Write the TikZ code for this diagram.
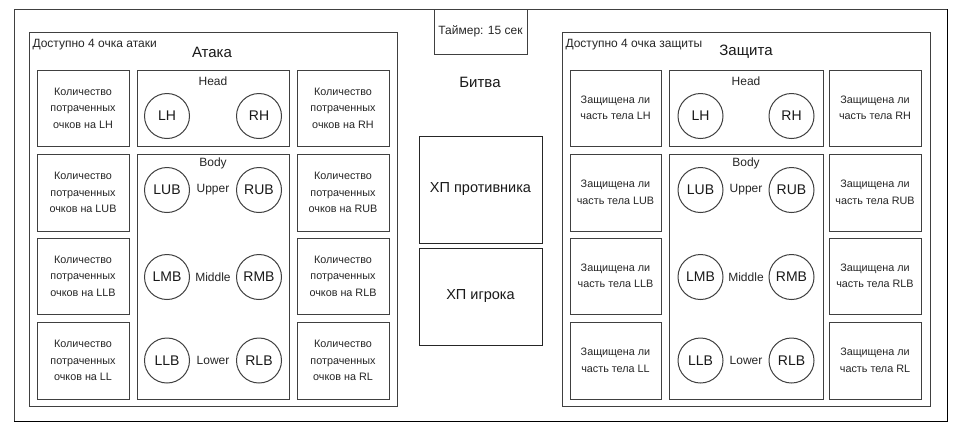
\documentclass[tikz,border=0pt]{standalone}
\usepackage{fontspec}
\setmainfont{Liberation Sans}
\begin{document}
\begin{tikzpicture}[x=1pt,y=-1pt,
  line width=1pt,
  frame/.style={draw=black!75, fill=none, inner sep=0pt, outer sep=0pt},
  box/.style={draw=black!75, inner sep=0pt, outer sep=0pt, align=center,
    text=black!85, font=\fontsize{10.8}{16.5}\selectfont},
  part/.style={draw=black!75, inner sep=0pt, outer sep=0pt, circle, minimum size=45pt,
    text=black!90, font=\fontsize{14}{16}\selectfont},
  lbl/.style={inner sep=0pt, text=black!85, font=\fontsize{12}{14}\selectfont},
  title/.style={inner sep=0pt, text=black!90, font=\fontsize{15}{17}\selectfont},
  hp/.style={draw=black!85, inner sep=0pt, outer sep=0pt, align=center,
    text=black!90, font=\fontsize{14.5}{17}\selectfont},
]
\useasboundingbox (0,0) rectangle (963,432);
\fill[white] (0,0) rectangle (963,432);
% outer frame
\node[frame, minimum width=933pt, minimum height=412pt] (outer) at (480.5,215) {};
\draw[black] (outer.south west) -- (outer.south east) -- (outer.north east);

% ===== Attack panel =====
\node[frame, minimum width=368pt, minimum height=374pt] (apanel) at (213,219) {};
\node[lbl, anchor=west] (atitlel) at (32,45) {Доступно 4 очка атаки};
\node[title] (atitle) at (212,52) {Атака};

\node[box, minimum width=92pt, minimum height=76pt] (aL1) at (83,108) {Количество\\потраченных\\очков на LH};
\node[box, minimum width=92pt, minimum height=77pt] (aL2) at (83,192.5) {Количество\\потраченных\\очков на LUB};
\node[box, minimum width=92pt, minimum height=76pt] (aL3) at (83,276) {Количество\\потраченных\\очков на LLB};
\node[box, minimum width=92pt, minimum height=77pt] (aL4) at (83,360.5) {Количество\\потраченных\\очков на LL};

\node[box, minimum width=92pt, minimum height=76pt] (aR1) at (343,108) {Количество\\потраченных\\очков на RH};
\node[box, minimum width=92pt, minimum height=77pt] (aR2) at (343,192.5) {Количество\\потраченных\\очков на RUB};
\node[box, minimum width=92pt, minimum height=76pt] (aR3) at (343,276) {Количество\\потраченных\\очков на RLB};
\node[box, minimum width=92pt, minimum height=77pt] (aR4) at (343,360.5) {Количество\\потраченных\\очков на RL};

\node[box, minimum width=152pt, minimum height=76pt] (ahead) at (213,108) {};
\node[box, minimum width=152pt, minimum height=245pt] (abody) at (213,276.5) {};
\node[lbl] (aheadl) at (213,81) {Head};
\node[lbl] (abodyl) at (213,163) {Body};
\node[part] (aLH) at (167,116) {LH};
\node[part] (aRH) at (259,116) {RH};
\node[part] (aLUB) at (167,190) {LUB};
\node[part] (aRUB) at (259,190) {RUB};
\node[part] (aLMB) at (167,277) {LMB};
\node[part] (aRMB) at (259,277) {RMB};
\node[part] (aLLB) at (167,360.5) {LLB};
\node[part] (aRLB) at (259,360.5) {RLB};
\node[lbl] (aup) at (213,190) {Upper};
\node[lbl] (amid) at (213,277) {Middle};
\node[lbl] (alow) at (213,360.5) {Lower};

% ===== Battle =====
\node[box, minimum width=93pt, minimum height=45pt, font=\fontsize{12}{14}\selectfont] (timer) at (480.5,31.5) {Таймер: 15 сек};
\node[title] (battle) at (480,82) {Битва};
\node[hp, minimum width=123pt, minimum height=107pt] (hpenemy) at (480.5,189.5) {ХП противника};
\node[hp, minimum width=123pt, minimum height=97pt] (hpplayer) at (480.5,296.5) {ХП игрока};

% ===== Defense panel =====
\node[frame, minimum width=368pt, minimum height=374pt] (dpanel) at (746,219) {};
\node[lbl, anchor=west] (dtitlel) at (565,45) {Доступно 4 очка защиты};
\node[title] (dtitle) at (746,52) {Защита};

\node[box, minimum width=91pt, minimum height=76pt] (dL1) at (615.5,108) {Защищена ли\\часть тела LH};
\node[box, minimum width=91pt, minimum height=77pt] (dL2) at (615.5,192.5) {Защищена ли\\часть тела LUB};
\node[box, minimum width=91pt, minimum height=76pt] (dL3) at (615.5,276) {Защищена ли\\часть тела LLB};
\node[box, minimum width=91pt, minimum height=77pt] (dL4) at (615.5,360.5) {Защищена ли\\часть тела LL};

\node[box, minimum width=92pt, minimum height=76pt] (dR1) at (875,108) {Защищена ли\\часть тела RH};
\node[box, minimum width=92pt, minimum height=77pt] (dR2) at (875,192.5) {Защищена ли\\часть тела RUB};
\node[box, minimum width=92pt, minimum height=76pt] (dR3) at (875,276) {Защищена ли\\часть тела RLB};
\node[box, minimum width=92pt, minimum height=77pt] (dR4) at (875,360.5) {Защищена ли\\часть тела RL};

\node[box, minimum width=154pt, minimum height=76pt] (dhead) at (746,108) {};
\node[box, minimum width=154pt, minimum height=245pt] (dbody) at (746,276.5) {};
\node[lbl] (dheadl) at (746,81) {Head};
\node[lbl] (dbodyl) at (746,163) {Body};
\node[part] (dLH) at (700.5,116) {LH};
\node[part] (dRH) at (791.5,116) {RH};
\node[part] (dLUB) at (700.5,190) {LUB};
\node[part] (dRUB) at (791.5,190) {RUB};
\node[part] (dLMB) at (700.5,277) {LMB};
\node[part] (dRMB) at (791.5,277) {RMB};
\node[part] (dLLB) at (700.5,360.5) {LLB};
\node[part] (dRLB) at (791.5,360.5) {RLB};
\node[lbl] (dup) at (746,190) {Upper};
\node[lbl] (dmid) at (746,277) {Middle};
\node[lbl] (dlow) at (746,360.5) {Lower};
\end{tikzpicture}
\end{document}
